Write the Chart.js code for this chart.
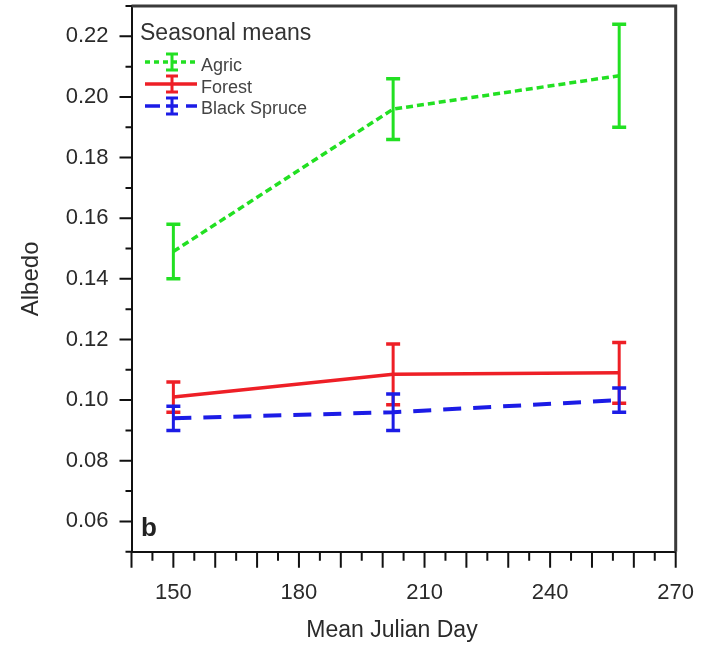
<!DOCTYPE html>
<html><head><meta charset="utf-8">
<script src="https://cdn.jsdelivr.net/npm/chart.js@4/dist/chart.umd.min.js"></script>
<style>html,body{margin:0;padding:0;background:#fff}</style>
</head><body>
<canvas id="c" width="701" height="645"></canvas>
<script>
// ---- data ----
const days = [150, 202.5, 256.5];
const agric = [0.149, 0.196, 0.207];
const agricErr = [0.009, 0.010, 0.017];
const forest = [0.101, 0.1085, 0.109];
const forestErr = [0.005, 0.010, 0.010];
const spruce = [0.094, 0.096, 0.100];
const spruceErr = [0.004, 0.006, 0.004];
const seriesNames = ['Agric', 'Forest', 'Black Spruce'];
const xTickLabels = [150, 180, 210, 240, 270];
const yTickLabels = [0.06, 0.08, 0.10, 0.12, 0.14, 0.16, 0.18, 0.20, 0.22];
const xTitle = 'Mean Julian Day';
const yTitle = 'Albedo';
const legendTitle = 'Seasonal means';
const panelLabel = 'b';

const FONT = '"Liberation Sans", Arial, Helvetica, sans-serif';
const GREEN = '#22e022', RED = '#ee1f26', BLUE = '#1c1ce6';
const TXT = '#2a2a2a';

const pts = (ys) => days.map((d, i) => ({x: d, y: ys[i]}));

const errorBars = {
  id: 'errorBars',
  afterDatasetsDraw(chart) {
    const ctx = chart.ctx, xs = chart.scales.x, ys = chart.scales.y;
    chart.data.datasets.forEach(ds => {
      ctx.save();
      ctx.strokeStyle = ds.borderColor;
      ds.data.forEach((p, i) => {
        const e = ds.errors[i];
        const px = xs.getPixelForValue(p.x);
        const top = ys.getPixelForValue(p.y + e), bot = ys.getPixelForValue(p.y - e);
        ctx.setLineDash([]);
        ctx.lineWidth = 3;
        ctx.beginPath(); ctx.moveTo(px, top); ctx.lineTo(px, bot); ctx.stroke();
        ctx.lineWidth = 3.5;
        ctx.beginPath();
        ctx.moveTo(px - 7, top); ctx.lineTo(px + 7, top);
        ctx.moveTo(px - 7, bot); ctx.lineTo(px + 7, bot);
        ctx.stroke();
      });
      ctx.restore();
    });
  }
};

const frameAndTicks = {
  id: 'frameAndTicks',
  afterDraw(chart) {
    const ctx = chart.ctx, xs = chart.scales.x, ys = chart.scales.y, a = chart.chartArea;
    ctx.save();
    // top and right frame
    ctx.strokeStyle = '#3a3a3a'; ctx.lineWidth = 3;
    ctx.beginPath();
    ctx.moveTo(a.left, a.top); ctx.lineTo(a.right, a.top); ctx.lineTo(a.right, a.bottom);
    ctx.stroke();
    // ticks
    ctx.strokeStyle = '#111'; ctx.lineWidth = 2;
    ctx.beginPath();
    for (let v = xs.min; v <= xs.max + 0.001; v += 5) {
      const px = xs.getPixelForValue(v);
      const len = (Math.round(v) % 10 === 0) ? 16 : 9;
      ctx.moveTo(px, a.bottom); ctx.lineTo(px, a.bottom + len);
    }
    for (let k = 5; k <= 23; k++) {
      const py = ys.getPixelForValue(k / 100);
      const len = (k % 2 === 0) ? 12 : 6;
      ctx.moveTo(a.left, py); ctx.lineTo(a.left - len, py);
    }
    ctx.stroke();

    // x axis title
    ctx.fillStyle = TXT;
    ctx.font = '23px ' + FONT;
    ctx.textAlign = 'center';
    ctx.textBaseline = 'middle';
    ctx.fillText(xTitle, 392, 631);
    ctx.textAlign = 'left';

    // legend
    ctx.fillStyle = '#333';
    ctx.font = '23px ' + FONT;
    ctx.textBaseline = 'alphabetic';
    ctx.fillText(legendTitle, 140, 40);
    const rows = [
      {c: GREEN, y: 62, ty: 71, dash: 'short'},
      {c: RED, y: 84, ty: 93, dash: 'solid'},
      {c: BLUE, y: 106, ty: 114, dash: 'long'}
    ];
    ctx.font = '18px ' + FONT;
    rows.forEach((r, i) => {
      ctx.strokeStyle = r.c; ctx.lineWidth = 3.5;
      ctx.beginPath();
      if (r.dash === 'short') {
        ctx.setLineDash([5, 4]); ctx.moveTo(145, r.y); ctx.lineTo(197, r.y);
      } else if (r.dash === 'solid') {
        ctx.setLineDash([]); ctx.moveTo(145, r.y); ctx.lineTo(197, r.y);
      } else {
        ctx.setLineDash([]);
        ctx.moveTo(145, r.y); ctx.lineTo(160, r.y);
        ctx.moveTo(166, r.y); ctx.lineTo(178, r.y);
        ctx.moveTo(186, r.y); ctx.lineTo(197, r.y);
      }
      ctx.stroke();
      ctx.setLineDash([]);
      const cx = 172;
      ctx.lineWidth = 3;
      ctx.beginPath(); ctx.moveTo(cx, r.y - 8); ctx.lineTo(cx, r.y + 8); ctx.stroke();
      ctx.beginPath();
      ctx.moveTo(cx - 6, r.y - 8); ctx.lineTo(cx + 6, r.y - 8);
      ctx.moveTo(cx - 6, r.y + 8); ctx.lineTo(cx + 6, r.y + 8);
      ctx.stroke();
      ctx.fillStyle = '#444';
      ctx.fillText(seriesNames[i], 201, r.ty);
    });
    // panel label
    ctx.fillStyle = '#222';
    ctx.font = 'bold 26px ' + FONT;
    ctx.fillText(panelLabel, 141, 536);
    ctx.restore();
  }
};

new Chart(document.getElementById('c'), {
  type: 'line',
  data: {
    datasets: [
      {label: seriesNames[0], data: pts(agric), errors: agricErr, borderColor: GREEN,
       borderWidth: 3.5, borderDash: [7, 4], pointRadius: 0, fill: false, tension: 0},
      {label: seriesNames[1], data: pts(forest), errors: forestErr, borderColor: RED,
       borderWidth: 3.5, pointRadius: 0, fill: false, tension: 0},
      {label: seriesNames[2], data: pts(spruce), errors: spruceErr, borderColor: BLUE,
       borderWidth: 4, borderDash: [18, 12], pointRadius: 0, fill: false, tension: 0}
    ]
  },
  options: {
    responsive: false,
    animation: false,
    devicePixelRatio: 1,
    layout: {padding: {top: 6, right: 25.3, left: 0, bottom: 0}},
    plugins: {legend: {display: false}, tooltip: {enabled: false}},
    scales: {
      x: {
        type: 'linear', min: 140, max: 270,
        afterBuildTicks: s => { s.ticks = xTickLabels.map(v => ({value: v})); },
        afterFit: s => { s.height = 93.3; s.paddingLeft = 0; s.paddingRight = 0; },
        grid: {display: false, drawTicks: false},
        border: {display: true, color: '#111', width: 2},
        ticks: {font: {size: 22, family: FONT}, color: TXT, padding: 28, maxRotation: 0,
                callback: v => String(v)},
        title: {display: false}
      },
      y: {
        type: 'linear', min: 0.05, max: 0.23,
        afterBuildTicks: s => { s.ticks = yTickLabels.map(v => ({value: v})); },
        afterFit: s => { s.width = 131.5; s.paddingTop = 0; s.paddingBottom = 0; },
        grid: {display: false, drawTicks: false},
        border: {display: true, color: '#111', width: 2},
        ticks: {font: {size: 22, family: FONT}, color: TXT, padding: 23,
                callback: v => v.toFixed(2)},
        title: {display: true, text: yTitle, color: TXT,
                font: {size: 24, family: FONT}, padding: {top: 17, bottom: 0}}
      }
    }
  },
  plugins: [errorBars, frameAndTicks]
});
</script>
</body></html>
